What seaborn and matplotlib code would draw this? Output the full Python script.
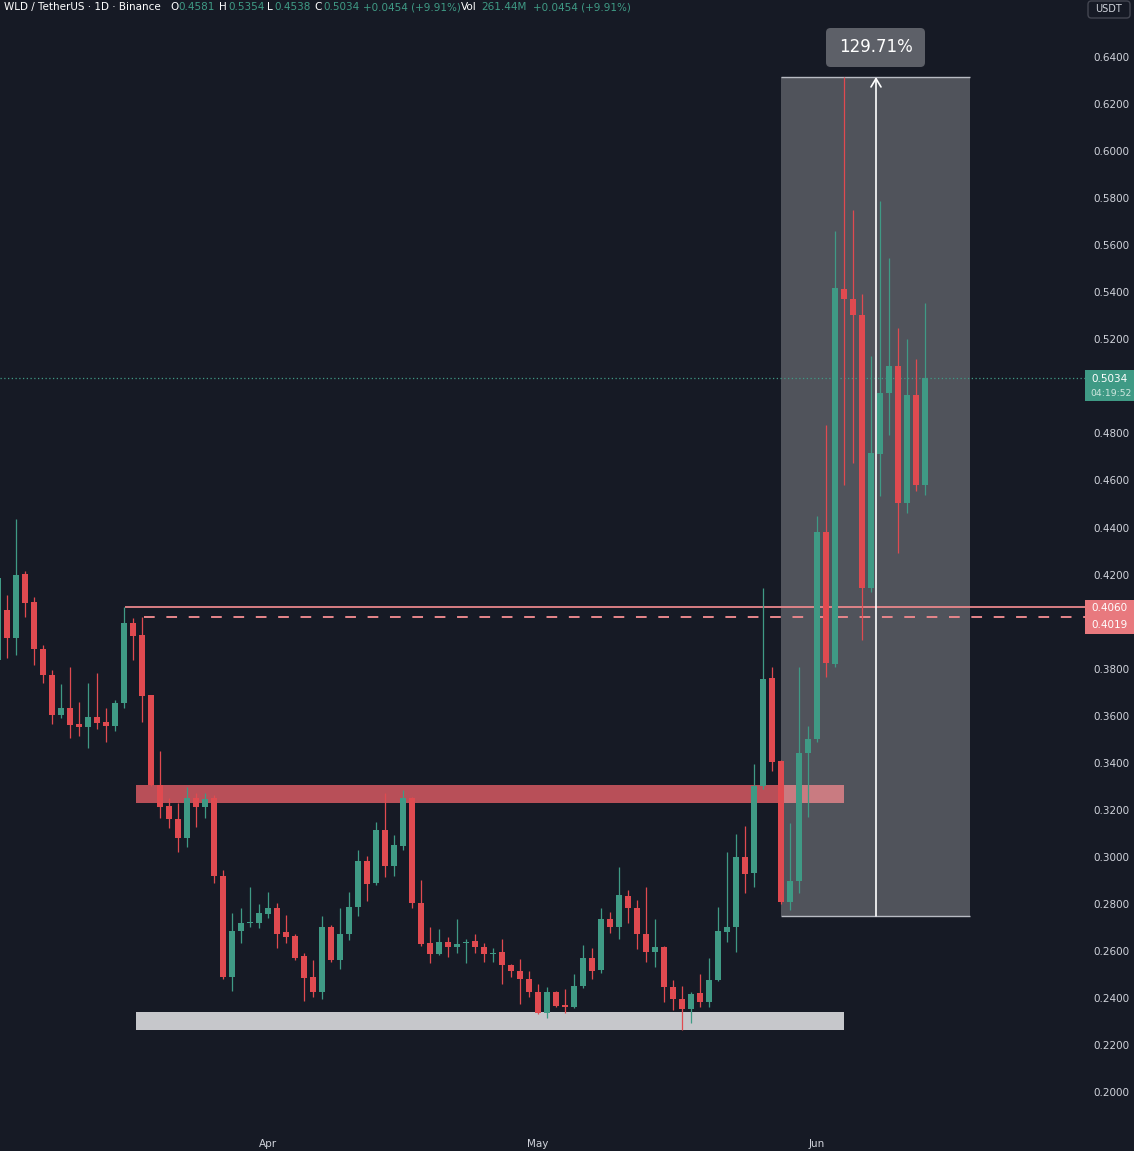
import numpy as np
import pandas as pd
import matplotlib
matplotlib.use("Agg")
import matplotlib.pyplot as plt
import matplotlib.dates as mdates
import seaborn as sns
from matplotlib.patches import Rectangle, FancyBboxPatch

# ---- data: WLD/USDT daily candles ----
start_date = "2025-03-02"
open_ = [0.3837, 0.4049, 0.3930, 0.4202, 0.4083, 0.3884, 0.3773, 0.3603, 0.3633, 0.3565,
         0.3552, 0.3594, 0.3573, 0.3556, 0.3654, 0.3994, 0.3943, 0.3688, 0.3305, 0.3216,
         0.3161, 0.3080, 0.3250, 0.3212, 0.3250, 0.2919, 0.2489, 0.2685, 0.2719, 0.2719,
         0.2757, 0.2783, 0.2681, 0.2664, 0.2578, 0.2489, 0.2426, 0.2702, 0.2562, 0.2672,
         0.2787, 0.2982, 0.2889, 0.3114, 0.2961, 0.3046, 0.3250, 0.2804, 0.2634, 0.2587,
         0.2638, 0.2617, 0.2632, 0.2642, 0.2617, 0.2587, 0.2595, 0.2540, 0.2515, 0.2481,
         0.2426, 0.2336, 0.2426, 0.2370, 0.2362, 0.2451, 0.2570, 0.2519, 0.2736, 0.2702,
         0.2834, 0.2783, 0.2672, 0.2595, 0.2617, 0.2447, 0.2396, 0.2353, 0.2421, 0.2383,
         0.2476, 0.2681, 0.2702, 0.2999, 0.2931, 0.3301, 0.3760, 0.3407, 0.2808, 0.2897,
         0.3441, 0.3501, 0.4381, 0.3820, 0.5414, 0.5371, 0.5303, 0.4143, 0.4712, 0.4972,
         0.5087, 0.4504, 0.4963, 0.4581]
high = [0.4190, 0.4113, 0.4436, 0.4215, 0.4105, 0.3901, 0.3794, 0.3735, 0.3807, 0.3658,
        0.3739, 0.3782, 0.3633, 0.3667, 0.4060, 0.4015, 0.4019, 0.3690, 0.3450, 0.3250,
        0.3229, 0.3297, 0.3271, 0.3271, 0.3265, 0.2944, 0.2761, 0.2783, 0.2872, 0.2800,
        0.2851, 0.2804, 0.2753, 0.2670, 0.2591, 0.2562, 0.2749, 0.2710, 0.2783, 0.2851,
        0.3029, 0.3004, 0.3148, 0.3271, 0.3093, 0.3284, 0.3255, 0.2902, 0.2702, 0.2693,
        0.2659, 0.2736, 0.2651, 0.2672, 0.2634, 0.2613, 0.2651, 0.2545, 0.2566, 0.2515,
        0.2459, 0.2447, 0.2430, 0.2438, 0.2502, 0.2625, 0.2613, 0.2783, 0.2766, 0.2957,
        0.2859, 0.2817, 0.2872, 0.2736, 0.2621, 0.2476, 0.2451, 0.2426, 0.2502, 0.2570,
        0.2787, 0.3021, 0.3097, 0.3131, 0.3395, 0.4143, 0.3807, 0.3410, 0.3144, 0.3807,
        0.3556, 0.4449, 0.4836, 0.5660, 0.6315, 0.5750, 0.5393, 0.5129, 0.5788, 0.5546,
        0.5248, 0.5201, 0.5116, 0.5354]
low = [0.3786, 0.3845, 0.3858, 0.4020, 0.3816, 0.3739, 0.3565, 0.3590, 0.3505, 0.3514,
       0.3463, 0.3543, 0.3488, 0.3535, 0.3633, 0.3837, 0.3573, 0.3300, 0.3165, 0.3123,
       0.3021, 0.3042, 0.3127, 0.3165, 0.2889, 0.2481, 0.2430, 0.2634, 0.2702, 0.2698,
       0.2740, 0.2613, 0.2634, 0.2562, 0.2387, 0.2404, 0.2396, 0.2553, 0.2523, 0.2647,
       0.2749, 0.2812, 0.2880, 0.2914, 0.2919, 0.3029, 0.2783, 0.2621, 0.2549, 0.2583,
       0.2574, 0.2591, 0.2549, 0.2591, 0.2553, 0.2553, 0.2459, 0.2489, 0.2374, 0.2404,
       0.2332, 0.2315, 0.2362, 0.2336, 0.2357, 0.2442, 0.2481, 0.2506, 0.2677, 0.2651,
       0.2719, 0.2608, 0.2553, 0.2532, 0.2383, 0.2349, 0.2264, 0.2294, 0.2362, 0.2362,
       0.2472, 0.2638, 0.2595, 0.2846, 0.2872, 0.3290, 0.3365, 0.2800, 0.2774, 0.2846,
       0.3169, 0.3488, 0.3764, 0.3807, 0.4581, 0.4674, 0.3922, 0.4126, 0.4534, 0.4793,
       0.4292, 0.4462, 0.4555, 0.4538]
close = [0.4186, 0.3930, 0.4198, 0.4079, 0.3884, 0.3773, 0.3603, 0.3633, 0.3560, 0.3552,
         0.3594, 0.3569, 0.3556, 0.3654, 0.3994, 0.3939, 0.3684, 0.3305, 0.3212, 0.3161,
         0.3080, 0.3250, 0.3212, 0.3246, 0.2919, 0.2489, 0.2685, 0.2719, 0.2721, 0.2761,
         0.2783, 0.2672, 0.2659, 0.2570, 0.2485, 0.2426, 0.2702, 0.2562, 0.2672, 0.2787,
         0.2982, 0.2885, 0.3114, 0.2961, 0.3050, 0.3250, 0.2804, 0.2630, 0.2587, 0.2638,
         0.2617, 0.2630, 0.2638, 0.2617, 0.2587, 0.2591, 0.2540, 0.2515, 0.2481, 0.2426,
         0.2336, 0.2426, 0.2366, 0.2362, 0.2451, 0.2570, 0.2515, 0.2736, 0.2702, 0.2838,
         0.2783, 0.2672, 0.2595, 0.2617, 0.2447, 0.2396, 0.2353, 0.2417, 0.2383, 0.2476,
         0.2685, 0.2702, 0.2999, 0.2927, 0.3301, 0.3756, 0.3403, 0.2808, 0.2897, 0.3441,
         0.3501, 0.4381, 0.3824, 0.5418, 0.5371, 0.5303, 0.4143, 0.4717, 0.4972, 0.5087,
         0.4504, 0.4963, 0.4580, 0.5034]

# 0.40 and 0.50 sit under the price flags on the right, so they are not listed
price_ticks = [0.20, 0.22, 0.24, 0.26, 0.28, 0.30, 0.32, 0.34, 0.36, 0.38, 0.42,
               0.44, 0.46, 0.48, 0.52, 0.54, 0.56, 0.58, 0.60, 0.62, 0.64]
month_ticks = ["2025-04-01", "2025-05-01", "2025-06-01"]
month_labels = ["Apr", "May", "Jun"]

last_price = 0.5034
countdown = "04:19:52"
level_solid = 0.4060
level_dashed = 0.4019
resist_zone = (0.3229, 0.3305)
support_zone = (0.2264, 0.2341)
measure_low, measure_high = 0.2749, 0.6315
measure_pct = "129.71%"

# ---- style ----
BG = "#161a25"
GREEN = "#3f9a85"
RED = "#e04a50"
PINK = "#e8868b"
TXT = "#d1d4dc"

sns.set_theme(style="dark", rc={"axes.facecolor": BG, "figure.facecolor": BG,
                                "axes.edgecolor": BG, "text.color": TXT,
                                "xtick.color": TXT, "ytick.color": TXT})
plt.rcParams['font.family'] = ['DejaVu Sans']

W, H = 1134, 1151
fig = plt.figure(figsize=(W / 100, H / 100), dpi=100)
ax = fig.add_axes([0, 1 - 1128 / H, 1085 / W, 1128 / H])

def fx(px):
    return px / W

def fy(py):
    return 1 - py / H

df = pd.DataFrame({"date": pd.date_range(start_date, periods=len(close), freq="D"),
                   "open": open_, "high": high, "low": low, "close": close})
df["x"] = mdates.date2num(df["date"])
df["up"] = df["close"] >= df["open"]
colors = np.where(df["up"], GREEN, RED)

apr1 = mdates.date2num(pd.Timestamp("2025-04-01"))
day_px = 9.0

def dx(px):
    # pixel column -> date number
    return apr1 + (px - 268) / day_px

# zones
z0, z1 = dx(136), dx(844)
ax.add_patch(Rectangle((z0, resist_zone[0]), z1 - z0, resist_zone[1] - resist_zone[0],
                       facecolor="#b84f58", edgecolor="none", zorder=1))
ax.add_patch(Rectangle((z0, support_zone[0]), z1 - z0, support_zone[1] - support_zone[0],
                       facecolor="#c6c7cb", edgecolor="none", zorder=1))

# measurement box
m0, m1 = dx(781), dx(970)
ax.add_patch(Rectangle((m0, measure_low), m1 - m0, measure_high - measure_low,
                       facecolor="white", alpha=0.25, edgecolor="none", zorder=1.5))
ax.hlines([measure_low, measure_high], m0, m1, color="#b8bbc3", lw=1, zorder=2)

# horizontal levels
ax.axhline(last_price, color=GREEN, lw=0.9, linestyle=(0, (1, 2)), zorder=2)
ax.hlines(level_solid, dx(125), dx(1090), color=PINK, lw=1.3, zorder=2)
ax.hlines(level_dashed, dx(144), dx(1090), color=PINK, lw=1.4,
          linestyle=(0, (5.5, 6)), zorder=2)

# candles
ax.vlines(df["x"], df["low"], df["high"], color=colors, lw=0.9, zorder=3)
body = (df["close"] - df["open"]).abs().clip(lower=0.0006)
ax.bar(df["x"], body, bottom=np.minimum(df["open"], df["close"]), width=0.74,
       color=colors, linewidth=0, zorder=4)

# arrow of measurement
mx = dx(876)
ax.annotate("", xy=(mx, measure_high), xytext=(mx, measure_low),
            arrowprops=dict(arrowstyle="->,head_length=0.5,head_width=0.3",
                            color="white", lw=1.2, shrinkA=0, shrinkB=0), zorder=5)

ax.set_xlim(dx(0), dx(1085))
ax.set_ylim(0.64 - 1071 / 2352.5, 0.64 + 57 / 2352.5)
ax.yaxis.tick_right()
ax.set_yticks(price_ticks)
ax.set_yticklabels([f"{t:.4f}" for t in price_ticks], fontsize=7.5)
ax.set_xticks(mdates.date2num(pd.to_datetime(month_ticks)))
ax.set_xticklabels(month_labels, fontsize=7.5)
ax.tick_params(axis="both", length=0)
ax.tick_params(axis="y", pad=6)
ax.tick_params(axis="x", pad=8)
ax.grid(False)
for s in ax.spines.values():
    s.set_visible(False)

# measurement label
fig.add_artist(FancyBboxPatch((fx(826), fy(67)), fx(99), 39 / H,
                              boxstyle="round,pad=0,rounding_size=0.004",
                              facecolor="#5d6068", edgecolor="none",
                              transform=fig.transFigure, zorder=6))
fig.text(fx(876), fy(47), measure_pct, ha="center", va="center",
         fontsize=12, color="white", zorder=7)

# right side price labels
fig.add_artist(Rectangle((fx(1085), fy(401)), fx(60), 31 / H, facecolor=GREEN,
                         edgecolor="none", transform=fig.transFigure, zorder=6))
fig.text(fx(1091), fy(379), f"{last_price:.4f}", ha="left", va="center",
         fontsize=7.5, color="white", zorder=7)
fig.text(fx(1090), fy(393), countdown, ha="left", va="center",
         fontsize=6.7, color="#cfe7df", zorder=7)
fig.add_artist(Rectangle((fx(1085), fy(634)), fx(60), 34 / H, facecolor="#e8797e",
                         edgecolor="none", transform=fig.transFigure, zorder=6))
fig.text(fx(1091), fy(608), f"{level_solid:.4f}", ha="left", va="center",
         fontsize=7.5, color="white", zorder=7)
fig.text(fx(1091), fy(625), f"{level_dashed:.4f}", ha="left", va="center",
         fontsize=7.5, color="white", zorder=7)

# currency box
fig.add_artist(FancyBboxPatch((fx(1088), fy(18)), fx(42), 17 / H,
                              boxstyle="round,pad=0,rounding_size=0.003",
                              facecolor=BG, edgecolor="#434651", lw=1,
                              transform=fig.transFigure, zorder=6))
fig.text(fx(1109), fy(9), "USDT", ha="center", va="center", fontsize=7,
         color=TXT, zorder=7)

# header
hy = fy(7)
header = [(4, "WLD / TetherUS · 1D · Binance", "white"),
          (170, "O", "white"), (178, "0.4581", GREEN),
          (219, "H", "white"), (228, "0.5354", GREEN),
          (267, "L", "white"), (274, "0.4538", GREEN),
          (314, "C", "white"), (323, "0.5034", GREEN),
          (363, "+0.0454 (+9.91%)", GREEN),
          (461, "Vol", "white"), (481, "261.44M", GREEN),
          (533, "+0.0454 (+9.91%)", GREEN)]
for px, s, c in header:
    fig.text(fx(px), hy, s, ha="left", va="center", fontsize=7.5, color=c)

fig.savefig("out.png", dpi=100, facecolor=BG)
